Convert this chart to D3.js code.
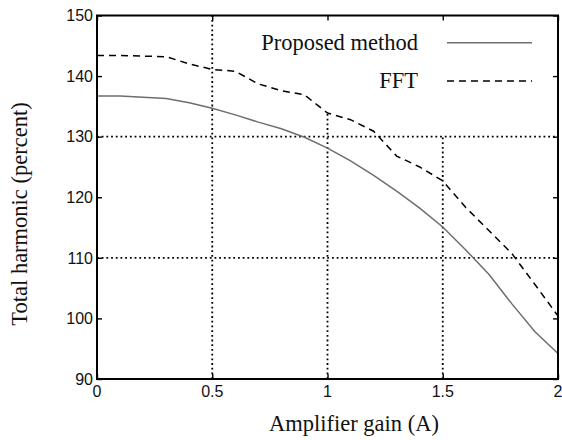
<!DOCTYPE html>
<html>
<head>
<meta charset="utf-8">
<script src="https://cdn.jsdelivr.net/npm/d3@7"></script>
<style>
  body { margin: 0; background: #fff; }
  .tick-label { font-family: "Liberation Sans", Arial, sans-serif; font-size: 16px; fill: #111; }
  .title { font-family: "Liberation Serif", "Times New Roman", serif; font-size: 22.5px; fill: #111; }
</style>
</head>
<body>
<div id="chart"></div>
<script>
// gain values (A)
const gain = [0, 0.1, 0.2, 0.3, 0.4, 0.5, 0.6, 0.7, 0.8, 0.9, 1.0,
              1.1, 1.2, 1.3, 1.4, 1.5, 1.6, 1.7, 1.8, 1.9, 2.0];
// Proposed method
const proposed = [136.7, 136.7, 136.5, 136.3, 135.6, 134.7, 133.6, 132.4, 131.3, 129.9, 128.1,
                  126.0, 123.6, 121.0, 118.2, 115.1, 111.3, 107.3, 102.4, 97.8, 94.2];
// FFT
const fft = [143.4, 143.4, 143.3, 143.2, 142.0, 141.1, 140.8, 138.7, 137.6, 136.9, 133.9,
             132.8, 130.9, 126.8, 125.0, 122.7, 118.3, 114.5, 110.7, 105.6, 100.4];

const xTicks = [0, 0.5, 1, 1.5, 2];
const yTicks = [90, 100, 110, 120, 130, 140, 150];
const xTickLabels = ["0", "0.5", "1", "1.5", "2"];
// dotted grid lines (vertical ones stop where the legend sits)
const gridX = [0.5, 1, 1.5];
const gridXTop = [150, 134, 130];
const gridY = [110, 130];

const width = 562, height = 440;
const margin = { top: 15.5, right: 4, bottom: 61, left: 97 };

const svg = d3.select("#chart").append("svg")
    .attr("width", width)
    .attr("height", height);

const x = d3.scaleLinear().domain([0, 2]).range([margin.left, width - margin.right]);
const y = d3.scaleLinear().domain([90, 150]).range([height - margin.bottom, margin.top]);

// grid
const grid = svg.append("g")
    .attr("stroke", "#000")
    .attr("stroke-width", 1.8)
    .attr("stroke-dasharray", "1.8,2.9");

gridX.forEach((g, i) => {
    grid.append("line")
        .attr("x1", x(g)).attr("x2", x(g))
        .attr("y1", y(90)).attr("y2", y(gridXTop[i]));
});
gridY.forEach(g => {
    grid.append("line")
        .attr("x1", x(0)).attr("x2", x(2))
        .attr("y1", y(g)).attr("y2", y(g));
});

// curves
const line = d3.line()
    .x((d, i) => x(gain[i]))
    .y(d => y(d));

svg.append("path")
    .datum(proposed)
    .attr("fill", "none")
    .attr("stroke", "#6e6e6e")
    .attr("stroke-width", 1.5)
    .attr("d", line);

svg.append("path")
    .datum(fft)
    .attr("fill", "none")
    .attr("stroke", "#000")
    .attr("stroke-width", 1.5)
    .attr("stroke-dasharray", "7,5")
    .attr("d", line);

// axes with inward ticks on all four sides
const tickLen = 5;
svg.append("g")
    .attr("transform", `translate(0,${y(90)})`)
    .call(d3.axisBottom(x).tickValues(xTicks).tickSizeInner(-tickLen).tickSizeOuter(0).tickFormat(""));
svg.append("g")
    .attr("transform", `translate(0,${y(150)})`)
    .call(d3.axisTop(x).tickValues(xTicks).tickSizeInner(-tickLen).tickSizeOuter(0).tickFormat(""));
svg.append("g")
    .attr("transform", `translate(${x(0)},0)`)
    .call(d3.axisLeft(y).tickValues(yTicks).tickSizeInner(-tickLen).tickSizeOuter(0).tickFormat(""));
svg.append("g")
    .attr("transform", `translate(${x(2)},0)`)
    .call(d3.axisRight(y).tickValues(yTicks).tickSizeInner(-tickLen).tickSizeOuter(0).tickFormat(""));

svg.selectAll(".domain").remove();
svg.selectAll(".tick line").attr("stroke", "#000").attr("stroke-width", 1.4);

// frame
svg.append("rect")
    .attr("x", x(0)).attr("y", y(150))
    .attr("width", x(2) - x(0)).attr("height", y(90) - y(150))
    .attr("fill", "none")
    .attr("stroke", "#000")
    .attr("stroke-width", 2);

// tick labels
svg.append("g").selectAll("text")
    .data(xTicks)
    .enter().append("text")
    .attr("class", "tick-label")
    .attr("x", d => x(d))
    .attr("y", y(90) + 18)
    .attr("text-anchor", "middle")
    .text((d, i) => xTickLabels[i]);

svg.append("g").selectAll("text")
    .data(yTicks)
    .enter().append("text")
    .attr("class", "tick-label")
    .attr("x", x(0) - 4)
    .attr("y", d => y(d))
    .attr("dy", "0.36em")
    .attr("text-anchor", "end")
    .text(d => d);

// axis titles
svg.append("text")
    .attr("class", "title")
    .attr("x", 354)
    .attr("y", 431)
    .attr("text-anchor", "middle")
    .text("Amplifier gain (A)");

svg.append("text")
    .attr("class", "title")
    .attr("transform", "translate(27,214) rotate(-90)")
    .attr("text-anchor", "middle")
    .text("Total harmonic (percent)");

// legend
const legend = [
    { name: "Proposed method", color: "#6e6e6e", dash: null, ty: 50, ly: 42.7 },
    { name: "FFT", color: "#000", dash: "7,5", ty: 88.3, ly: 81 }
];
legend.forEach(l => {
    svg.append("text")
        .attr("class", "title")
        .attr("x", 418)
        .attr("y", l.ty)
        .attr("text-anchor", "end")
        .text(l.name);
    svg.append("line")
        .attr("x1", 447).attr("x2", 532)
        .attr("y1", l.ly).attr("y2", l.ly)
        .attr("stroke", l.color)
        .attr("stroke-width", 1.5)
        .attr("stroke-dasharray", l.dash);
});
</script>
</body>
</html>
